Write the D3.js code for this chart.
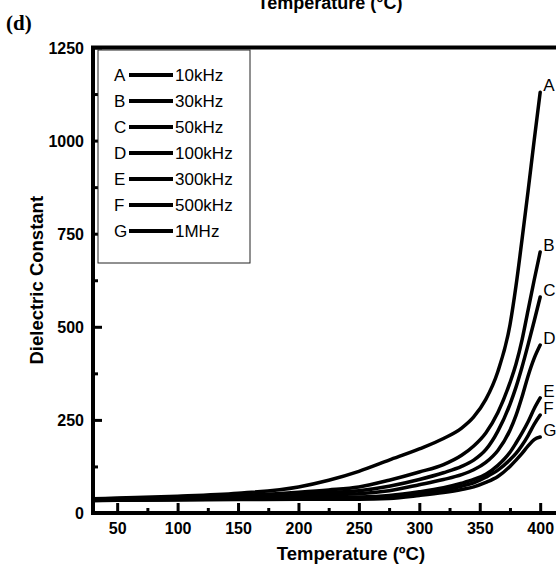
<!DOCTYPE html>
<html>
<head>
<meta charset="utf-8">
<script src="https://cdn.jsdelivr.net/npm/d3@7/dist/d3.min.js"></script>
<style>
html,body{margin:0;padding:0;background:#fff;overflow:hidden;}
svg{display:block;}
</style>
</head>
<body>
<svg id="chart" width="556" height="566"></svg>
<script>
// ---- data ----
const temps   = [30, 50, 100, 150, 200, 225, 250, 275, 300, 320, 335, 345, 355, 365, 375, 380, 385, 390, 395, 400];
const seriesA = [38, 40, 45, 53, 70, 88, 112, 142, 172, 200, 228, 258, 305, 380, 505, 610, 735, 865, 1000, 1130];
const seriesB = [37, 38, 42, 47, 56, 62, 70, 88, 110, 130, 155, 180, 215, 270, 350, 400, 465, 545, 625, 701];
const seriesC = [36, 37, 40, 45, 51, 55, 60, 72, 90, 108, 125, 142, 170, 220, 292, 338, 392, 452, 515, 580];
const seriesD = [35, 36, 39, 43, 47, 50, 52, 60, 76, 90, 103, 116, 136, 168, 222, 262, 312, 368, 415, 451];
const seriesE = [34, 35, 37, 39, 41, 42, 43, 47, 57, 68, 80, 90, 104, 128, 163, 188, 215, 245, 280, 309];
const seriesF = [34, 35, 36, 38, 39, 40, 40, 43, 52, 62, 72, 81, 96, 115, 143, 160, 182, 208, 238, 263];
const seriesG = [33, 34, 35, 36, 37, 37, 37, 39, 47, 55, 63, 70, 82, 98, 125, 142, 160, 180, 197, 204];
const letters = ["A", "B", "C", "D", "E", "F", "G"];
const freqLabels = ["10kHz", "30kHz", "50kHz", "100kHz", "300kHz", "500kHz", "1MHz"];
const xTicks = [50, 100, 150, 200, 250, 300, 350, 400];
const xMinor = [75, 125, 175, 225, 275, 325, 375, 425];
const yTicks = [0, 250, 500, 750, 1000, 1250];
const yMinor = [125, 375, 625, 875, 1125];
const allSeries = [seriesA, seriesB, seriesC, seriesD, seriesE, seriesF, seriesG];

// ---- layout ----
const svg = d3.select("#chart");
const mLeft = 93, mTop = 47.5, mBottom = 513;
const x = d3.scaleLinear().domain([30, 460]).range([mLeft, mLeft + 430 * 1.2086]);
const y = d3.scaleLinear().domain([0, 1250]).range([mBottom, mTop]);
const FONT = "Arial, 'Liberation Sans', Helvetica, sans-serif";

// clipped title of previous panel
svg.append("text").attr("x", 330).attr("y", 9).attr("text-anchor", "middle")
  .attr("font-family", FONT).attr("font-weight", "bold").attr("font-size", 18)
  .text("Temperature (°C)");

// panel label
svg.append("text").attr("x", 6).attr("y", 30)
  .attr("font-family", "'Liberation Serif', 'Times New Roman', serif").attr("font-weight", "bold").attr("font-size", 21)
  .text("(d)");

// axes ticks
const gx = svg.append("g").attr("transform", `translate(0,${mBottom})`)
  .call(d3.axisBottom(x).tickValues(xTicks).tickSize(-10).tickPadding(10).tickFormat(d3.format("d")));
const gxm = svg.append("g").attr("transform", `translate(0,${mBottom})`)
  .call(d3.axisBottom(x).tickValues(xMinor).tickSize(-5).tickFormat(""));
const gy = svg.append("g").attr("transform", `translate(${mLeft},0)`)
  .call(d3.axisLeft(y).tickValues(yTicks).tickSize(-9).tickPadding(9).tickFormat(d3.format("d")));
const gym = svg.append("g").attr("transform", `translate(${mLeft},0)`)
  .call(d3.axisLeft(y).tickValues(yMinor).tickSize(-5).tickFormat(""));
[gx, gxm, gy, gym].forEach(g => {
  g.select(".domain").remove();
  g.selectAll(".tick line").attr("stroke", "#000").attr("stroke-width", 3);
  g.selectAll(".tick text").attr("font-family", FONT).attr("font-weight", "bold")
    .attr("font-size", 16).attr("fill", "#000");
});
gy.selectAll(".tick text").attr("dy", "0.36em");

// frame
svg.append("rect").attr("x", mLeft).attr("y", mTop)
  .attr("width", x(460) - mLeft).attr("height", mBottom - mTop)
  .attr("fill", "none").attr("stroke", "#000").attr("stroke-width", 4);

// axis titles
svg.append("text").attr("x", 351).attr("y", 560).attr("text-anchor", "middle")
  .attr("font-family", FONT).attr("font-weight", "bold").attr("font-size", 18.5)
  .text("Temperature (ºC)");
svg.append("text").attr("transform", `translate(43,${(mTop + mBottom) / 2}) rotate(-90)`)
  .attr("text-anchor", "middle")
  .attr("font-family", FONT).attr("font-weight", "bold").attr("font-size", 18.5)
  .text("Dielectric Constant");

// curves
const line = d3.line().x((d, i) => x(temps[i])).y(d => y(d)).curve(d3.curveMonotoneX);
svg.append("g").selectAll("path").data(allSeries).join("path")
  .attr("d", d => line(d))
  .attr("fill", "none").attr("stroke", "#000").attr("stroke-width", 3.5)
  .attr("stroke-linejoin", "round").attr("stroke-linecap", "round");

// end labels
svg.append("g").selectAll("text").data(allSeries).join("text")
  .attr("x", x(400) + 3)
  .attr("y", d => y(d[d.length - 1]) - 1)
  .attr("font-family", FONT).attr("font-size", 17)
  .text((d, i) => letters[i]);

// legend
const lg = svg.append("g");
lg.append("rect").attr("x", 98).attr("y", 50).attr("width", 152).attr("height", 213)
  .attr("fill", "#fff").attr("stroke", "#222").attr("stroke-width", 1);
const rows = lg.selectAll("g.row").data(letters).join("g").attr("class", "row")
  .attr("transform", (d, i) => `translate(0,${75 + i * 26})`);
rows.append("text").attr("x", 114).attr("y", 0).attr("dy", "0.36em")
  .attr("font-family", FONT).attr("font-size", 17).text(d => d);
rows.append("line").attr("x1", 129).attr("x2", 173).attr("y1", 0).attr("y2", 0)
  .attr("stroke", "#000").attr("stroke-width", 4);
rows.append("text").attr("x", 175).attr("y", 0).attr("dy", "0.36em")
  .attr("font-family", FONT).attr("font-size", 17).text((d, i) => freqLabels[i]);
</script>
</body>
</html>
